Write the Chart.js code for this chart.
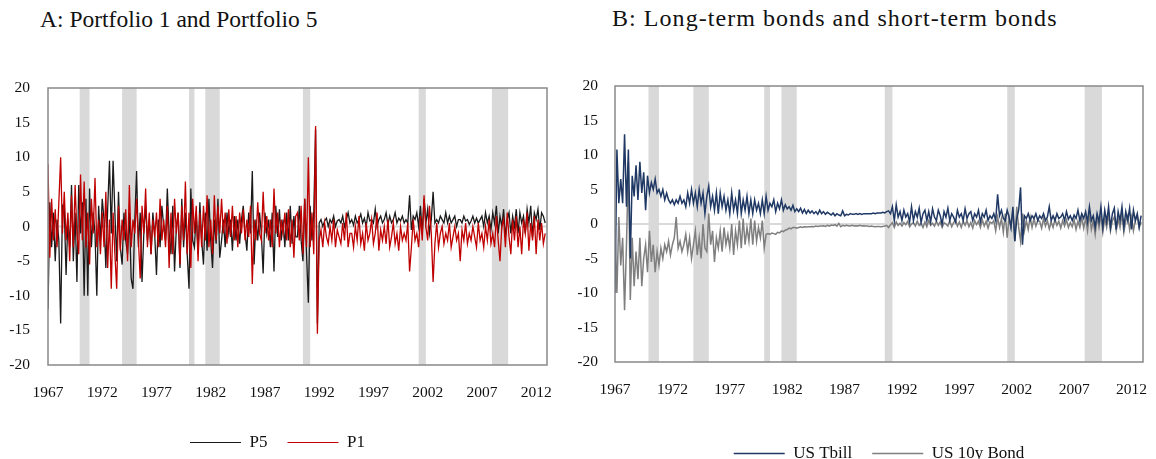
<!DOCTYPE html>
<html>
<head>
<meta charset="utf-8">
<script src="https://cdn.jsdelivr.net/npm/chart.js@4/dist/chart.umd.min.js"></script>
<style>
  html, body { margin: 0; padding: 0; background: #fff; }
  body { width: 1156px; height: 459px; position: relative; overflow: hidden; font-family: "Liberation Serif", serif; }
  .title { position: absolute; top: 6px; font-size: 23.5px; color: #111; white-space: nowrap; }
  #titleA { left: 40px; }
  #titleB { left: 612px; font-size: 24px; letter-spacing: 1.05px; top: 5px; }
  .box { position: absolute; top: 0; }
  #boxA { left: 0; }
  #boxB { left: 578px; }
</style>
</head>
<body>
<div class="title" id="titleA">A: Portfolio 1 and Portfolio 5</div>
<div class="title" id="titleB">B: Long-term bonds and short-term bonds</div>
<div class="box" id="boxA"><canvas id="chartA" width="578" height="461"></canvas></div>
<div class="box" id="boxB"><canvas id="chartB" width="578" height="472"></canvas></div>
<script>
// samples every 2 months from Jan 1967, one row per year
const startYear = 1967;
const stepMonths = 2;
const tickYears = [1967, 1972, 1977, 1982, 1987, 1992, 1997, 2002, 2007, 2012];

// NBER recessions (decimal years)
const recStart = [1969.92, 1973.83, 1980.0, 1981.5, 1990.5, 2001.17, 2007.92];
const recEnd   = [1970.83, 1975.17, 1980.5, 1982.83, 1991.17, 2001.83, 2009.42];

const p5 = [
  -12, 3.5, -3, 2, -5, 1,
  -2, -14, 3, 2.5, -7, 1,
  -3, 6, -5, 2, -8, 6,
  -1, 3.5, -10, 4, -10, 5.5,
  -3, 2, -1, -10, 3, -2,
  4, 1, -6, 2.5, 9.5, -1,
  9.5, 2, -5, 5, -3, -5.5,
  2, -2, -4, 2, -7.5, -9,
  1, 8, -3, 2, -8, -1,
  3, -2, 1, -4, 2, -1,
  -7, 1, -3, 3, 0, -2,
  5.5, -1, -4, 3, -6.5, 0,
  2, -6, 4, -3, 2, -4,
  -9, 5.5, -2, -3, 2, -4,
  3.5, -2, -5.5, 2, -3.5, 4,
  -2, -6, 1, -2.5, 4, -4.5,
  -2, 1, -3, 2, -1, 1,
  -3.5, 1.5, -2, 1, -2.5, 1,
  3, -1, -3.5, 2, -1, 8,
  -5.5, 1, -2, 2, -1, -6.8,
  2, -1, 1, -3, 2, -6.5,
  3, -1.5, 2.5, -2, 1, -3,
  2, -2, 3, -2.5, 1.5, -1.5,
  -1.5, 3, -2, -5, 4, -4,
  -11, 3, -2, 2, 14, -14,
  0.5, 1, 0, 0.8, 1.2, 0,
  1, 0.5, 1.5, 0, 0.8, 1,
  0.5, 1.5, 0, 1, 2, 0.5,
  1, 0.2, 1.5, 0.5, 1, 1.8,
  0.5, 1.2, 0, 2, 0.8, 1,
  0.5, 2.5, 0, 1, 1.5, 0.5,
  1, 2, 0.3, 1.5, 0.5, 1,
  2, 0.5, 1.2, 0.8, 1.5, 0.5,
  1, 0.5, 4.5, -0.5, 1.5, 1,
  2, 0, 3, -1, 4, 0.5,
  2.5, -1, 1, 5, 0.5, 1,
  0.5, 1.5, 1, 0.5, 2, 0.5,
  1.5, 0.5, 1, 1.5, 0, 1,
  1, 0.5, 1.5, 0.8, 1, 0.3,
  0.8, 1.5, 0.5, 1.2, 0.5, 1,
  1.5, 0, 2, 0.5, 1.5, -0.5,
  2, 0.5, 3, -1, 1.5, 0,
  2.5, -1.5, 1, 2, -1, 1.5,
  0, 2.5, -1, 2, 0.5, 1.5,
  -1, 2.5, 0.5, 3, -1.5, 2,
  1, 2.5, -0.5, 2, 1.5, 0.5
];

const p1 = [
  9, -4.5, 4, -2, 2.5, -3,
  3.5, 10, -1, 5, -2, 2,
  -5, 4.5, -3, 6, -1, -4,
  7.5, -2, 6.5, -3, 2, -5.5,
  4, -1, 7, -3, 1, -4,
  2, -3, 5, -6, 1, -9,
  2, -4, -9, 3, -3.5, 1,
  -2, 2.5, -5, 6, -3, 1,
  -1, 4, -2, -7.5, 3, -1,
  5.5, -3, 2, -4, 1, -1.5,
  2, -3, 4, -2, 1, -3,
  3, -6, 2, -4, 4, -1,
  2, -5.5, 3, -2, 6.5, -4,
  2, -6, 4, -1, 3, -5,
  2, -3, 3, -2, 4.5, -3,
  1, -4, 4.5, -2, 3, -1,
  4, -1, 2, -2.5, 2.5, -1.5,
  3, -2, 1.5, -3, 2, -1,
  2.5, -2, 1, -1.5, 3, -8.3,
  1, -2, 3.5, -1, -2, 5,
  -1, 1.5, -2, 1, -3, 5.5,
  -1, 2, -3, 1, -1, 2,
  -2, 2.5, -3, 1, -4.5, 1.5,
  2, -2, 3, -4, 4, -3,
  10, -3, 2, -4, 14.5, -15.5,
  -2, -0.5, -3, 0.5, -1.5, -2.5,
  0, -2, 1, -3, -0.5, -1.5,
  -2.5, 0.5, -2, 2, -3, -1,
  -1, -3, 0, -2, 1.5, -2.5,
  -1, -3.5, 0.5, -2, -1, 1,
  -2.5, -1, 2, -3.5, -0.5, -2,
  0, -2.5, 1, -3, -1.5, 0.5,
  -2.5, -1, -3.5, 0, -2, -1,
  -2, 0.5, -6.5, -3, 1, -2,
  -1, -3, 1.5, -2, 4.5, 0,
  -2, 3, -1, -8, -2.5, 0.5,
  -3, -1, 0, -2.5, -1, -2,
  0.5, -3, -1.5, 0, -2, -1,
  -5, -0.5, -2, 0.5, -2.5, -1,
  -2, 0, -1.5, -3, 0.5, -2,
  -1, -3, 0, -2, 1, -2.5,
  -1, -3, 1.5, -2, -5, 0,
  1, -3, 2, -1.5, -4, 1,
  -2, 1.5, -3, 0, -4, 1,
  -1, 2, -3.5, 0.5, -2, 1.5,
  -4, 1, -2, 0.5, -2.5, -1
];

const tbill = [
  -10, 10.8, 3, 6.5, 3, 13,
  2.5, 10.8, -5, 7, 4, 8.5,
  3.5, 9, 4.5, 7.5, 2, 7,
  4.5, 6, 5, 6.5, 4.5, 5,
  4, 5, 3.5, 4.5, 3.5, 3,
  3.5, 2.8, 3.5, 3, 4, 3,
  3.5, 2.5, 4.5, 3, 5, 3,
  4.5, 2.5, 5, 3, 4.5, 1.5,
  4, 5.5, 2.5, 4, 2, 4.5,
  1.5, 4.5, 2.5, 4, 2, 3.5,
  1.5, 4.5, 2, 3.5, 1.5, 5,
  1.5, 3.5, 2, 4, 1.5, 3.5,
  1.5, 3.5, 2, 3, 1.5, 3.5,
  1.5, 4, 2, 3, 2.5, 3.5,
  1.8, 3, 2.2, 3.5, 2, 2.8,
  2.2, 2.5, 2, 2.7, 1.8, 2.2,
  1.8, 2.3, 1.6, 2.1, 1.5, 2,
  1.6, 1.9, 1.5, 1.8, 1.4, 2,
  1.5, 1.8, 1.4, 1.7, 1.5, 1.3,
  1.6, 1.2, 1.5, 1.3, 1.2, 1.9,
  1.2, 1.4, 1.3, 1.5, 1.4, 1.4,
  1.5, 1.4, 1.5, 1.4, 1.5, 1.5,
  1.5, 1.5, 1.5, 1.6, 1.5, 1.6,
  1.6, 1.6, 1.7, 1.6, 1.8, 1.9,
  1.5, 2.5, 0.5, 2.8, 1, 1.8,
  0.5, 2, 1, 1.5, 0.3, 2.5,
  0.5, 1.8, 1, 2.3, 0.2, 1.5,
  2, 0.5, 1.8, 0.3, 2.2, 1,
  0.5, 2, 1.2, 0, 1.8, 1,
  2.3, 0.5, 1.5, 1, 0.3, 2,
  1, 1.5, 0.5, 2.2, 0.8, 1.5,
  1.8, 0.5, 1.5, 1, 2, 0.3,
  1.5, 1, 2, 0.5, 1.2, 0.8,
  1.5, 0.5, 4.3, 1.2, 2, 0.8,
  0.5, 2, 1, -0.5, 2.5, -2.5,
  0.8, 2, 5.3, -3, 1.2, 0.8,
  1.5, 0.5, 1.2, 0.8, 1.5, 0.5,
  1.2, 0.8, 1.5, 0.5, 1, 2.5,
  0.5, 1.2, 0.5, 1.5, 0.8, 1,
  1.5, 0.5, 1.8, 0.7, 1.2, 0.5,
  1.3, 0.8, 2, 0.5, 1.5, 0.8,
  1.8, 0.3, 2.5, 0.5, 1.2, -0.5,
  1.5, 0.3, 2.5, -0.5, 2, 0.3,
  2.5, -0.5, 1.5, 2.3, -0.8, 1.8,
  0.5, 2.5, -0.5, 1.8, 0.5, 2.3,
  -0.8, 2, 0.5, 1.5, -0.5, 1.2
];

const bond10y = [
  -1, -10, 1, -6, -2, -12.5,
  -3, 9, -11, -2, -9, -4,
  -8, -2, -9, -5, -3, -7,
  -1, -5.5, -3, -7, -4, -6,
  -3.5, -5, -3, -4, -2.5, -4.5,
  -3, -2, 1, -3.5, -2.5, -4,
  -3, -1.5, -4, -2, -5, -3,
  -1, -4.5, -2, -5, 0, -3.5,
  -4, 1.5, -3, -1, -5.5, -2,
  -3.5, -1, -4, -0.5, -3, -1.5,
  -3.5, 0, -4.5, -1, -3, 0.5,
  -3.5, 0.8, -3, -0.5, -2.5, 0.8,
  -3, 0.5, -2.5, -0.5, -2, 0.5,
  -3.5, -1.5, -1.4, -1.5, -1.3, -1.4,
  -1.5, -1.2, -1.3, -1, -1.1, -0.9,
  -0.8, -0.6, -0.7, -0.5, -0.5, -0.6,
  -0.5, -0.4, -0.5, -0.4, -0.45, -0.4,
  -0.4, -0.35, -0.4, -0.3, -0.35, -0.3,
  -0.3, -0.25, -0.35, -0.2, -0.3, -0.15,
  -0.2, -0.1, -0.3, 0.1, -0.4, -0.2,
  -0.3, -0.2, -0.25, -0.3, -0.2, -0.3,
  -0.25, -0.3, -0.2, -0.3, -0.25, -0.3,
  -0.3, -0.35, -0.3, -0.35, -0.4, -0.35,
  -0.35, -0.4, -0.35, -0.3, -0.2, -0.5,
  -0.1, 0.2, -0.5, 0.3, -0.2, 0.1,
  -0.3, 0.2, -0.1, 0.4, -0.4, 0,
  0.2, -0.3, 0.4, -0.2, 0.1, -0.5,
  0.3, -0.4, 0.5, -0.2, 0.1, -0.3,
  0.4, -0.2, 0.3, -0.5, 0.2, 0,
  -0.3, 0.5, -0.4, 0.2, 0.6, -0.3,
  0.3, -0.5, 0.4, -0.2, 0.5, -0.4,
  0.2, -0.6, 0.5, -0.1, 0.4, -0.5,
  0.6, -0.3, 0.4, -0.6, 0.3, 0.1,
  0.5, -1, 1, -0.5, 0.8, -1.2,
  1.5, -2, 1, -0.5, 2, -2.5,
  2.5, -0.5, -2.5, 1.5, -1, 0.5,
  -0.8, 1, -0.5, 0.8, -0.3, 0.5,
  0.4, -0.6, 0.8, -0.3, 0.5, -0.7,
  0.3, -0.5, 0.7, -0.2, 0.4, -0.6,
  0.5, -0.3, 0.6, -0.5, 0.2, -0.4,
  0.6, -0.8, 0.4, -0.5, 1, -0.6,
  0.8, -1, 1.5, -0.8, 0.5, -1.5,
  1, -0.5, 1.2, -1.2, 0.8, -0.5,
  1.5, -1, 0.5, 1, -1, 0.8,
  -0.5, 1.5, -1.2, 0.5, 1.2, -0.8,
  1, -1, 0.5, 1.2, -0.5, 0.3
];

const fontFamily = '"Liberation Serif", "Times New Roman", serif';

function toPoints(arr) {
  return arr.map((v, i) => ({ x: startYear + i * stepMonths / 12, y: v }));
}

// grey recession bars, zero line and plot frame
const panelPlugin = {
  id: 'panel',
  beforeDatasetsDraw(chart) {
    const { ctx, chartArea: a, scales: { x, y } } = chart;
    ctx.save();
    ctx.fillStyle = '#d9d9d9';
    recStart.forEach((s, i) => {
      const x0 = x.getPixelForValue(s);
      const x1 = x.getPixelForValue(recEnd[i]);
      ctx.fillRect(x0, a.top, x1 - x0, a.bottom - a.top);
    });
    const y0 = y.getPixelForValue(0);
    ctx.strokeStyle = '#d9d9d9';
    ctx.lineWidth = 2;
    ctx.beginPath();
    ctx.moveTo(a.left, y0);
    ctx.lineTo(a.right, y0);
    ctx.stroke();
    ctx.restore();
  },
  afterDatasetsDraw(chart) {
    const { ctx, chartArea: a } = chart;
    ctx.save();
    ctx.strokeStyle = '#898989';
    ctx.lineWidth = 1.5;
    ctx.strokeRect(a.left, a.top, a.right - a.left, a.bottom - a.top);
    ctx.restore();
  }
};

function makeOptions(cfg) {
  return {
    responsive: false,
    animation: false,
    layout: { padding: { left: cfg.padLeft, right: cfg.padRight, top: cfg.padTop, bottom: 0 } },
    elements: { point: { radius: 0 }, line: { borderWidth: 1.3, tension: 0 } },
    plugins: {
      legend: {
        position: 'bottom',
        fullSize: cfg.legendFull,
        labels: {
          usePointStyle: true,
          pointStyle: 'line',
          pointStyleWidth: 51,
          padding: 20,
          color: '#111',
          font: { family: fontFamily, size: 17 },
          sort: (a, b) => a.datasetIndex - b.datasetIndex
        }
      },
      tooltip: { enabled: false }
    },
    scales: {
      x: {
        type: 'linear',
        min: 1967,
        max: 2013,
        grid: { display: false, drawTicks: false },
        border: { display: false },
        afterBuildTicks: s => { s.ticks = tickYears.map(v => ({ value: v })); },
        afterFit: s => { s.height = cfg.xHeight; s.paddingLeft = 0; s.paddingRight = 0; },
        ticks: {
          autoSkip: false,
          maxRotation: 0,
          padding: 19,
          color: '#111',
          font: { family: fontFamily, size: 15.5 },
          callback: v => String(v)
        }
      },
      y: {
        min: -20,
        max: 20,
        grid: { display: false, drawTicks: false },
        border: { display: false },
        afterFit: s => { s.width = cfg.yWidth; },
        ticks: {
          stepSize: 5,
          padding: cfg.yPad,
          color: '#111',
          font: { family: fontFamily, size: 15.5 }
        }
      }
    }
  };
}

new Chart(document.getElementById('chartA'), {
  type: 'line',
  data: {
    datasets: [
      { label: 'P5', data: toPoints(p5), borderColor: '#1a1a1a', backgroundColor: '#1a1a1a', order: 2 },
      { label: 'P1', data: toPoints(p1), borderColor: '#c00000', backgroundColor: '#c00000', order: 1 }
    ]
  },
  options: makeOptions({ padLeft: 8, padTop: 88, padRight: 31, yWidth: 40, yPad: 18, xHeight: 49, legendFull: true }),
  plugins: [panelPlugin]
});

new Chart(document.getElementById('chartB'), {
  type: 'line',
  data: {
    datasets: [
      { label: 'US Tbill', data: toPoints(tbill), borderColor: '#1f3864', backgroundColor: '#1f3864', borderWidth: 1.5 },
      { label: 'US 10y Bond', data: toPoints(bond10y), borderColor: '#7f7f7f', backgroundColor: '#7f7f7f', borderWidth: 1.5 }
    ]
  },
  options: makeOptions({ padLeft: 0, padTop: 86, padRight: 13, yWidth: 37, yPad: 17, xHeight: 63, legendFull: false }),
  plugins: [panelPlugin]
});
</script>
</body>
</html>
